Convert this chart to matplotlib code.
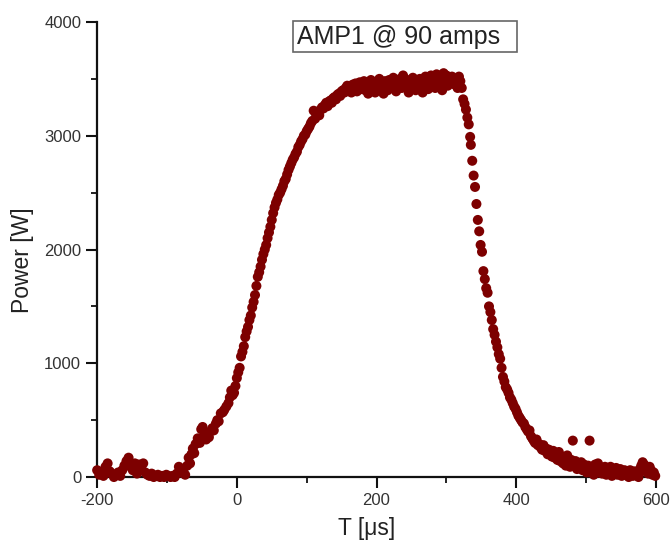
import numpy as np
import matplotlib
matplotlib.use("Agg")
import matplotlib.pyplot as plt
from matplotlib.patches import Rectangle
from matplotlib.ticker import MultipleLocator

plt.rcParams['font.family'] = ['Liberation Sans', 'DejaVu Sans']
plt.rcParams['axes.unicode_minus'] = False

# values: time [us] and power [W]
t_base = [-200, -197, -194, -191, -188, -185, -182, -179, -176, -173, -170, -167, -164, -161,
          -158, -155, -152, -149, -146, -143, -140, -137, -134, -131, -128, -125, -122, -119,
          -116, -113, -110, -107, -104, -101, -98, -95, -92, -89, -86, -83]
p_base = [60, 20, 40, 10, 90, 120, 50, 30, 0, 20, 40, 10, 60, 100,
          140, 170, 90, 60, 120, 30, 110, 80, 120, 40, 20, 10, 30, 0,
          10, 20, 0, 10, 0, 20, 10, 0, 10, 0, 30, 90]

t_rise = [-80, -77, -74, -71, -69, -67, -65, -63, -61, -59, -56, -53, -51, -49, -47, -44, -42,
          -40, -38, -35, -33, -30, -28, -26, -23, -20, -18, -15, -12, -10, -8, -6, -4, -2,
          0, 2, 4, 6, 8, 10, 12, 14, 16, 18, 20, 22, 24, 26, 28, 30, 32, 34, 36, 38, 40,
          42, 44, 46, 48, 50, 52, 54, 56, 58, 60, 62, 64, 66, 68, 70, 72, 74, 76, 78, 80,
          82, 84, 86, 88, 90, 92, 94, 96, 98, 100, 102, 104, 106, 108, 110, 112, 114, 116,
          118, 120, 122, 124, 126, 128, 130, 132, 134, 136, 138, 140, 142, 144, 146, 148, 150,
          152, 154, 156, 158]
p_rise = [40, 60, 20, 100, 170, 120, 200, 250, 210, 290, 340, 300, 420, 440, 360, 330, 380,
          350, 400, 430, 410, 470, 500, 490, 560, 570, 590, 620, 650, 700, 760, 720, 740, 800,
          870, 920, 960, 1060, 1100, 1150, 1230, 1280, 1320, 1380, 1420, 1490, 1540, 1600, 1680,
          1760, 1800, 1850, 1910, 1960, 2000, 2040, 2100, 2150, 2200, 2260, 2320, 2370, 2410,
          2440, 2480, 2500, 2530, 2560, 2600, 2620, 2660, 2700, 2730, 2760, 2790, 2810, 2840,
          2860, 2900, 2920, 2950, 2970, 3000, 3010, 3040, 3060, 3080, 3110, 3130, 3220, 3150,
          3190, 3200, 3180, 3230, 3250, 3240, 3270, 3290, 3260, 3300, 3310, 3290, 3330, 3340,
          3320, 3360, 3370, 3350, 3390, 3400, 3380, 3420, 3440]

t_top = [160, 162, 164, 166, 168, 170, 172, 174, 176, 178, 180, 182, 184, 186, 188, 190, 192,
         194, 196, 198, 200, 202, 204, 206, 208, 210, 212, 214, 216, 218, 220, 222, 224, 226,
         228, 230, 232, 234, 236, 238, 240, 242, 244, 246, 248, 250, 252, 254, 256, 258, 260,
         262, 264, 266, 268, 270, 272, 274, 276, 278, 280, 282, 284, 286, 288, 290, 292, 294,
         296, 298, 300, 302, 304, 306, 308, 310, 312, 314, 316, 318, 320]
p_top = [3400, 3430, 3380, 3450, 3410, 3460, 3390, 3440, 3470, 3410, 3430, 3480, 3400, 3450,
         3370, 3440, 3490, 3420, 3460, 3380, 3470, 3430, 3500, 3410, 3450, 3370, 3480, 3440,
         3400, 3490, 3450, 3420, 3510, 3460, 3390, 3480, 3440, 3500, 3420, 3530, 3470, 3430,
         3490, 3380, 3460, 3440, 3510, 3450, 3400, 3480, 3420, 3500, 3470, 3380, 3440, 3520,
         3460, 3410, 3490, 3530, 3450, 3500, 3420, 3540, 3480, 3460, 3510, 3400, 3550, 3490,
         3530, 3440, 3500, 3470, 3520, 3480, 3450, 3500, 3420, 3520, 3480]

t_fall = [322, 324, 326, 328, 330, 332, 334, 335, 337, 339, 341, 343, 345, 347, 349, 351, 353,
          355, 357, 359, 361, 363, 365, 367, 369, 371, 373, 375, 377, 379, 381, 383, 385, 387,
          389, 391, 393, 395, 397, 399, 401, 403, 405, 407, 409, 411, 413, 415, 417, 419, 421,
          423, 425, 427, 429, 431, 433, 435, 437, 439, 441, 443, 445, 447, 449, 451, 453, 455,
          457, 459, 461, 463, 465, 467, 469, 471, 473, 475, 477, 479, 481, 483, 485, 487, 489,
          491, 493, 495, 497, 499, 501, 503, 505, 507, 509, 511, 513, 515, 517, 519, 521, 523,
          525, 527, 529, 531, 533, 535, 537, 539, 541, 543, 545, 547, 549, 551, 553, 555, 557,
          559, 561, 563, 565, 567, 569, 571, 573, 575, 577, 579, 581, 583, 585, 587, 589, 591,
          593, 595, 597, 599]
p_fall = [3420, 3320, 3280, 3230, 3160, 3100, 2990, 2920, 2780, 2650, 2550, 2400, 2260, 2160,
          2040, 1980, 1810, 1740, 1660, 1620, 1500, 1450, 1380, 1300, 1250, 1190, 1140, 1080,
          1040, 960, 880, 840, 790, 770, 740, 700, 680, 650, 620, 600, 570, 540, 520, 500, 480,
          470, 440, 420, 400, 410, 360, 340, 320, 300, 330, 280, 290, 260, 240, 280, 230, 250,
          200, 240, 210, 180, 230, 170, 200, 150, 220, 140, 180, 120, 160, 100, 190, 130, 90,
          150, 320, 110, 140, 70, 120, 100, 130, 60, 110, 80, 40, 100, 320, 60, 90, 20, 110, 70,
          120, 40, 80, 30, 60, 90, 20, 70, 40, 90, 10, 60, 30, 80, 20, 50, 70, 10, 40, 60, 20,
          50, 0, 60, 30, 10, 50, 20, 40, 0, 70, 100, 130, 110, 50, 80, 30, 90, 60, 20, 40, 10]

t = t_base + t_rise + t_top + t_fall
p = p_base + p_rise + p_top + p_fall

fig = plt.figure(figsize=(6.7, 5.43), dpi=100)
ax = fig.add_axes([0.145, 0.1215, 0.834, 0.838])

ax.scatter(t, p, s=52, color='#7d0000', edgecolors='none', zorder=3, clip_on=False)

ax.set_xlim(-200, 600)
ax.set_ylim(0, 4000)
ax.xaxis.set_major_locator(MultipleLocator(200))
ax.xaxis.set_minor_locator(MultipleLocator(100))
ax.yaxis.set_major_locator(MultipleLocator(1000))
ax.yaxis.set_minor_locator(MultipleLocator(500))

for s in ['top', 'right']:
    ax.spines[s].set_visible(False)
for s in ['left', 'bottom']:
    ax.spines[s].set_linewidth(1.6)
    ax.spines[s].set_color('#111111')

ax.tick_params(which='major', direction='out', length=8, width=1.5, labelsize=12,
               colors='#111111', labelcolor='#333333')
ax.tick_params(which='minor', direction='out', length=4, width=1.3, colors='#111111')

ax.set_xlabel('T [\u03bcs]', fontsize=16.5, color='#222222', va='center')
ax.set_ylabel('Power [W]', fontsize=16.5, color='#222222', va='center')
ax.xaxis.set_label_coords(0.483, -0.114)
ax.yaxis.set_label_coords(-0.134, 0.477)

# boxed label at the top
ax.add_patch(Rectangle((0.3506, 0.934), 0.4007, 0.068, transform=ax.transAxes,
                       facecolor='white', edgecolor='#666666', linewidth=1.2,
                       clip_on=False, zorder=4))
ax.text(0.358, 0.966, 'AMP1 @ 90 amps', transform=ax.transAxes, fontsize=18,
        color='#222222', ha='left', va='center', zorder=5)

fig.savefig('out.png', dpi=100)
